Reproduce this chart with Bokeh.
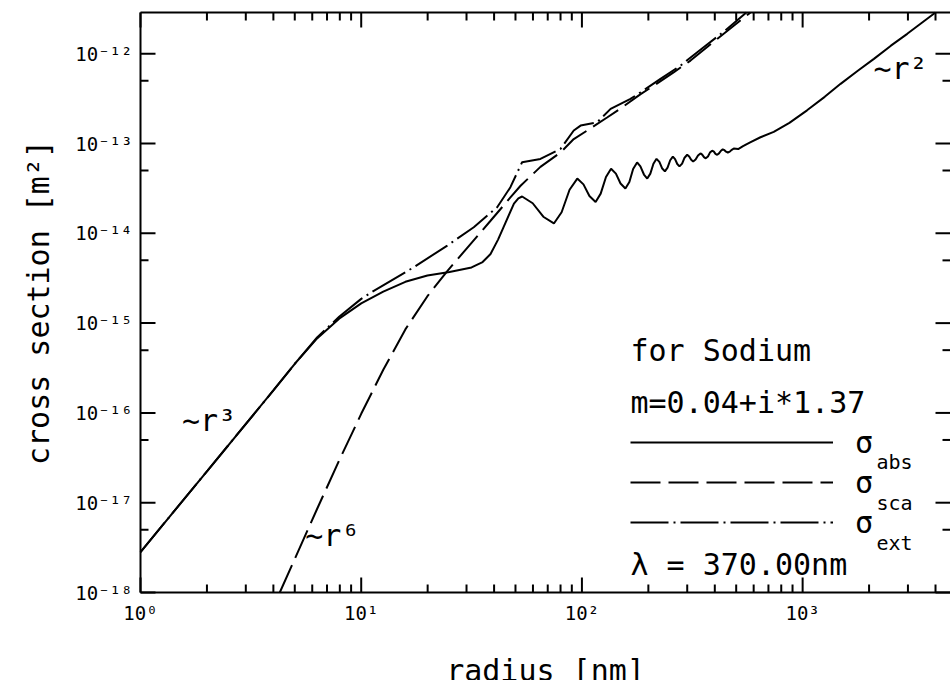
import math
import numpy as np
from bokeh.plotting import figure
from bokeh.models import Range1d, Label, Legend, LegendItem, Arrow, ColumnDataSource
from bokeh.embed import file_html
from bokeh.resources import INLINE

# ---- data: (log10 radius [nm], log10 cross section [m^2]) ----
abs_points = [(0.0, -17.55), (0.301, -16.65), (0.602, -15.75), (0.70, -15.45), (0.80, -15.17),
              (0.90, -14.95), (1.00, -14.78), (1.10, -14.65), (1.20, -14.54), (1.30, -14.47),
              (1.40, -14.43), (1.50, -14.38), (1.55, -14.32), (1.586, -14.23), (1.62, -14.07),
              (1.645, -13.93), (1.692, -13.67), (1.712, -13.61),
              (1.729, -13.59), (1.777, -13.665), (1.825, -13.815),
              (1.873, -13.89), (1.908, -13.765), (1.944, -13.515),
              (1.979, -13.39), (2.007, -13.455), (2.034, -13.585),
              (2.062, -13.65), (2.085, -13.558), (2.109, -13.373),
              (2.132, -13.28), (2.154, -13.335), (2.175, -13.445),
              (2.197, -13.50), (2.215, -13.428), (2.232, -13.283),
              (2.250, -13.21), (2.265, -13.255), (2.281, -13.345),
              (2.296, -13.39), (2.310, -13.335), (2.324, -13.225),
              (2.338, -13.17), (2.351, -13.205), (2.363, -13.275),
              (2.376, -13.31), (2.388, -13.269), (2.400, -13.186),
              (2.412, -13.145), (2.422, -13.173), (2.432, -13.228),
              (2.442, -13.255), (2.454, -13.223), (2.465, -13.158),
              (2.477, -13.125), (2.486, -13.144), (2.495, -13.181),
              (2.504, -13.20), (2.515, -13.178), (2.526, -13.133),
              (2.537, -13.11), (2.545, -13.124), (2.553, -13.151),
              (2.561, -13.165), (2.571, -13.144), (2.580, -13.101),
              (2.590, -13.08), (2.598, -13.091), (2.605, -13.114),
              (2.613, -13.125), (2.621, -13.11), (2.630, -13.08),
              (2.638, -13.065), (2.646, -13.074), (2.653, -13.091),
              (2.661, -13.10), (2.670, -13.09), (2.679, -13.07),
              (2.688, -13.055), (2.698, -13.058), (2.708, -13.062),
              (2.73, -13.03), (2.76, -12.99), (2.809, -12.93), (2.869, -12.87), (2.94, -12.77),
              (3.02, -12.63), (3.1, -12.48), (3.172, -12.335), (3.25, -12.19), (3.323, -12.057),
              (3.4, -11.91), (3.474, -11.778), (3.602, -11.54)]

sca_points = [(0.631, -18.0), (0.70, -17.62), (0.80, -17.07), (0.90, -16.53),
              (1.00, -16.01), (1.10, -15.52), (1.20, -15.07), (1.30, -14.70), (1.39, -14.42),
              (1.495, -14.12), (1.586, -13.86), (1.676, -13.60), (1.722, -13.47), (1.812, -13.26),
              (1.903, -13.10), (1.963, -12.95), (2.024, -12.855), (2.114, -12.71), (2.175, -12.61),
              (2.266, -12.45), (2.326, -12.355), (2.417, -12.205), (2.492, -12.076), (2.6, -11.86),
              (2.763, -11.542)]

ext_points = [(0.0, -17.55), (0.301, -16.65), (0.602, -15.75), (0.70, -15.45), (0.80, -15.16),
              (0.90, -14.93), (1.0, -14.73), (1.057, -14.64), (1.238, -14.378), (1.39, -14.136),
              (1.51, -13.932), (1.616, -13.709), (1.676, -13.486), (1.729, -13.208), (1.812, -13.171),
              (1.903, -13.059), (1.963, -12.855), (1.994, -12.80), (2.069, -12.763), (2.13, -12.614),
              (2.22, -12.503), (2.266, -12.429), (2.356, -12.28), (2.447, -12.131), (2.55, -11.93),
              (2.65, -11.74), (2.745, -11.541)]

x_major = [1, 10, 100, 1000]
x_minor = [m * d for d in (1, 10, 100, 1000) for m in range(2, 10)]
y_major = [1e-18, 1e-17, 1e-16, 1e-15, 1e-14, 1e-13, 1e-12]
y_minor = [5e-18, 5e-17, 5e-16, 5e-15, 5e-14, 5e-13]

x_title = "radius [nm]"
y_title = "cross section [m\u00b2]"


def unpack(points):
    lr = np.array([q[0] for q in points])
    ls = np.array([q[1] for q in points])
    return 10 ** lr, 10 ** ls


SUP = str.maketrans("-0123456789", "\u207b\u2070\u00b9\u00b2\u00b3\u2074\u2075\u2076\u2077\u2078\u2079")


def pow10_label(v):
    return "10" + str(int(round(math.log10(v)))).translate(SUP)


FONT = "DejaVu Sans Mono"
# plot box (the drawn frame) in data units and in pixels of the canvas
XMIN, XMAX = 1, 4677
YMIN, YMAX = 1e-18, 2.88e-12
W, H = 950, 680
BOX_L, BOX_T, BOX_B = 140, 12, 592
px_x = (W - BOX_L) / math.log10(XMAX / XMIN)
px_y = (BOX_B - BOX_T) / math.log10(YMAX / YMIN)
# the Bokeh frame covers the whole canvas so that every text inside it is drawn
XLO = XMIN / 10 ** (BOX_L / px_x)
YLO = YMIN / 10 ** ((H - BOX_B) / px_y)
YHI = YMAX * 10 ** (BOX_T / px_y)

p = figure(width=W, height=H, x_axis_type="log", y_axis_type="log",
           x_axis_location=None, y_axis_location=None,
           x_range=Range1d(XLO, XMAX), y_range=Range1d(YLO, YHI),
           output_backend="svg", toolbar_location=None,
           min_border_left=0, min_border_right=0, min_border_top=0, min_border_bottom=0)
try:
    p.title = None
except Exception:
    p.title.visible = False
p.grid.visible = False
p.outline_line_color = None
p.background_fill_color = "white"
p.border_fill_color = "white"

# ---- frame lines (left, bottom, top) and inward tick marks on four sides ----
tk = dict(x0=[float(XMIN), float(XMIN), float(XMIN)],
          y0=[YMIN, YMIN, YMAX],
          x1=[float(XMIN), float(XMAX), float(XMAX)],
          y1=[YMAX, YMIN, YMAX])


def add_x_side(xs, length, bottom):
    fi = 10 ** (length / px_y)
    y0, y1 = (YMIN, YMIN * fi) if bottom else (YMAX, YMAX / fi)
    for x in xs:
        if XMIN <= x <= XMAX:
            tk["x0"].append(float(x)); tk["x1"].append(float(x))
            tk["y0"].append(y0); tk["y1"].append(y1)


def add_y_side(ys, length, left):
    fi = 10 ** (length / px_x)
    x0, x1 = (XMIN, XMIN * fi) if left else (XMAX, XMAX / fi)
    for y in ys:
        tk["x0"].append(float(x0)); tk["x1"].append(float(x1))
        tk["y0"].append(float(y)); tk["y1"].append(float(y))


for side in (True, False):
    add_x_side(x_major, 15, side)
    add_x_side(x_minor, 8, side)
    add_y_side(y_major, 15, side)
    add_y_side(y_minor, 8, side)

p.add_layout(Arrow(start=None, end=None, x_start="x0", y_start="y0", x_end="x1", y_end="y1",
                   source=ColumnDataSource(tk), line_color="black", line_width=2))

# ---- tick labels and axis titles ----
for v in x_major:
    p.add_layout(Label(x=v, y=YMIN, text=pow10_label(v), y_offset=-9,
                       text_align="center", text_baseline="top", text_font=FONT,
                       text_font_size="19px", text_color="black"))
for v in y_major:
    p.add_layout(Label(x=XMIN, y=v, text=pow10_label(v), x_offset=-8,
                       text_align="right", text_baseline="middle", text_font=FONT,
                       text_font_size="19px", text_color="black"))

p.add_layout(Label(x=math.sqrt(XMIN * XMAX), y=YMIN, text=x_title, y_offset=-78,
                   text_align="center", text_baseline="alphabetic", text_font=FONT,
                   text_font_size="30px", text_color="black"))
p.add_layout(Label(x=XMIN, y=math.sqrt(YMIN * YMAX), text=y_title, x_offset=-102, angle=math.pi / 2,
                   text_align="center", text_baseline="alphabetic", text_font=FONT,
                   text_font_size="30px", text_color="black"))

# ---- curves ----
ra, sa = unpack(abs_points)
rs, ss = unpack(sca_points)
re_, se = unpack(ext_points)

l_abs = p.line(ra, sa, line_color="black", line_width=2)
l_sca = p.line(rs, ss, line_color="black", line_width=2, line_dash="30 8")
l_ext = p.line(re_, se, line_color="black", line_width=2, line_dash="38 5 2 5")

legend = Legend(items=[LegendItem(label="\u03c3", renderers=[l_abs]),
                       LegendItem(label="\u03c3", renderers=[l_sca]),
                       LegendItem(label="\u03c3", renderers=[l_ext])],
                location=(630, 138), orientation="vertical",
                glyph_width=203, glyph_height=40, label_height=40, label_standoff=22,
                spacing=0, padding=0, margin=0,
                border_line_alpha=0, background_fill_alpha=0,
                label_text_font=FONT, label_text_font_size="30px", label_text_color="black")
p.add_layout(legend)


# ---- texts ----
def add_text(x, y, text, size="30px"):
    p.add_layout(Label(x=x, y=y, text=text, text_font=FONT, text_font_size=size,
                       text_color="black", text_align="left", text_baseline="alphabetic"))


add_text(166, 4.95e-16, "for Sodium")
add_text(166, 1.315e-16, "m=0.04+i*1.37")
add_text(166, 2.05e-18, "\u03bb = 370.00nm")
add_text(2160, 2.82e-17, "abs", "20px")
add_text(2160, 1.0e-17, "sca", "20px")
add_text(2160, 3.52e-18, "ext", "20px")
add_text(1.54, 8.2e-17, "~r\u00b3")
add_text(5.58, 4.3e-18, "~r\u2076")
add_text(2094, 6.84e-13, "~r\u00b2")

open("out.html", "w").write(file_html(p, INLINE))
